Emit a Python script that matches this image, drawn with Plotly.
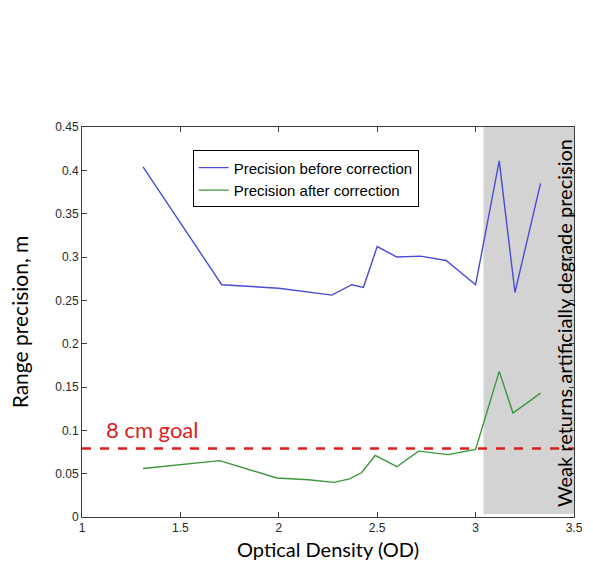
import plotly.graph_objects as go

od_before = [1.31, 1.71, 2.0, 2.27, 2.37, 2.43, 2.5, 2.6, 2.72, 2.85, 3.0, 3.12, 3.2, 3.33]
prec_before = [0.404, 0.268, 0.264, 0.256, 0.268, 0.265, 0.312, 0.300, 0.301, 0.296, 0.268, 0.411, 0.259, 0.385]

od_after = [1.31, 1.70, 1.99, 2.15, 2.28, 2.36, 2.42, 2.49, 2.60, 2.71, 2.86, 3.0, 3.12, 3.19, 3.33]
prec_after = [0.056, 0.065, 0.045, 0.043, 0.040, 0.044, 0.051, 0.071, 0.058, 0.076, 0.072, 0.078, 0.168, 0.120, 0.143]

goal = 0.079
weak_start = 3.04
x_ticks = [1, 1.5, 2, 2.5, 3, 3.5]
x_labels = ["1", "1.5", "2", "2.5", "3", "3.5"]
y_ticks = [0, 0.05, 0.1, 0.15, 0.2, 0.25, 0.3, 0.35, 0.4, 0.45]
y_labels = ["0", "0.05", "0.1", "0.15", "0.2", "0.25", "0.3", "0.35", "0.4", "0.45"]

fig = go.Figure()
fig.add_trace(go.Scatter(x=od_before, y=prec_before, mode="lines",
                         name="Precision before correction",
                         line=dict(color="rgb(75,75,215)", width=1.4)))
fig.add_trace(go.Scatter(x=od_after, y=prec_after, mode="lines",
                         name="Precision after correction",
                         line=dict(color="rgb(60,150,60)", width=1.4)))

fig.add_shape(type="rect", xref="x", yref="y", x0=weak_start, x1=3.5, y0=0.0035, y1=0.45,
              fillcolor="rgb(211,211,211)", line=dict(width=0), layer="below")
fig.add_shape(type="line", xref="x", yref="y", x0=1, x1=3.5, y0=goal, y1=goal,
              line=dict(color="rgb(220,30,30)", width=2.5, dash="dash"))

fig.add_annotation(x=1.11, y=0.101, xref="x", yref="y", text="8 cm goal", showarrow=False,
                   xanchor="left", yanchor="middle",
                   font=dict(family="Lato, Open Sans, sans-serif", size=22, color="rgb(215,35,35)"))
fig.add_annotation(x=3.45, y=0.224, xref="x", yref="y",
                   text="Weak returns artificially degrade precision", showarrow=False,
                   textangle=-90, xanchor="center", yanchor="middle",
                   font=dict(family="Lato, Open Sans, sans-serif", size=20, color="black"))

axis_common = dict(showline=True, linecolor="rgb(60,60,60)", linewidth=1, mirror="ticks",
                   ticks="inside", ticklen=5, tickcolor="rgb(60,60,60)", showgrid=False,
                   zeroline=False,
                   tickfont=dict(family="Arial, Liberation Sans, sans-serif", size=12, color="rgb(40,40,40)"))

fig.update_xaxes(range=[1, 3.5], tickvals=x_ticks, ticktext=x_labels,
                 title=dict(text="Optical Density (OD)", standoff=8,
                            font=dict(family="Lato, Open Sans, sans-serif", size=20, color="black")),
                 **axis_common)
fig.update_yaxes(range=[0, 0.45], tickvals=y_ticks, ticktext=y_labels,
                 title=dict(text="Range precision, m", standoff=20,
                            font=dict(family="Lato, Open Sans, sans-serif", size=21, color="black")),
                 **axis_common)

fig.update_layout(
    width=593, height=572,
    margin=dict(l=82, r=10, t=127, b=55),
    plot_bgcolor="white", paper_bgcolor="white",
    legend=dict(x=0.225, y=0.94, xanchor="left", yanchor="top",
                bgcolor="white", bordercolor="black", borderwidth=1,
                font=dict(family="Arial, Liberation Sans, sans-serif", size=15, color="black"),
                tracegroupgap=0, itemwidth=30),
)

fig.write_html("out.html")
